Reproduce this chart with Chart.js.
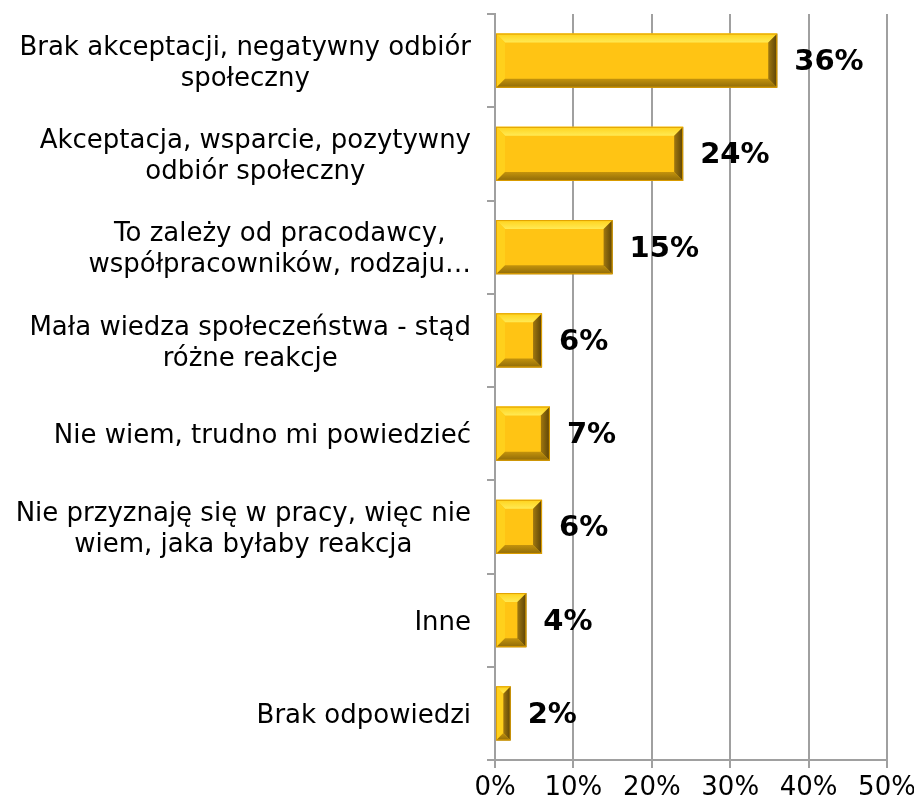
<!DOCTYPE html>
<html>
<head>
<meta charset="utf-8">
<script src="https://cdn.jsdelivr.net/npm/chart.js@4"></script>
<style>
  html, body { margin: 0; padding: 0; background: #fff; }
  #wrap { width: 914px; height: 808px; position: relative; }
</style>
</head>
<body>
<div id="wrap"><canvas id="odbiorChart"></canvas></div>
<script>
// kategorie odpowiedzi (wieloliniowe etykiety)
const categories = [
    ['Brak akceptacji, negatywny odbiór', 'społeczny'],
    ['Akceptacja, wsparcie, pozytywny', 'odbiór społeczny'],
    ['To zależy od pracodawcy,', 'współpracowników, rodzaju…'],
    ['Mała wiedza społeczeństwa - stąd', 'różne reakcje'],
    'Nie wiem, trudno mi powiedzieć',
    ['Nie przyznaję się w pracy, więc nie', 'wiem, jaka byłaby reakcja'],
    'Inne',
    'Brak odpowiedzi'
];
const values = [36, 24, 15, 6, 7, 6, 4, 2];
const xTicks = [0, 10, 20, 30, 40, 50];

const FONT = '"DejaVu Sans", sans-serif';
const LABEL_SIZE = 26;
const LABEL_LINE = 31;

// --- wypukłe (fazowane) słupki ---
const bevelBars = {
    id: 'bevelBars',
    afterDatasetsDraw(chart) {
        const c = chart.ctx;
        chart.getDatasetMeta(0).data.forEach(bar => {
            const l = Math.min(bar.base, bar.x), r = Math.max(bar.base, bar.x);
            const t = bar.y - bar.height / 2, b = bar.y + bar.height / 2;
            const bv = Math.min(9, (r - l) / 2, (b - t) / 2);
            c.save();
            // górna krawędź
            let g = c.createLinearGradient(0, t, 0, t + bv);
            g.addColorStop(0, '#FFD21A');
            g.addColorStop(1, '#FFEA55');
            c.fillStyle = g;
            c.beginPath();
            c.moveTo(l, t); c.lineTo(r, t); c.lineTo(r - bv, t + bv); c.lineTo(l + bv, t + bv);
            c.closePath(); c.fill();
            // lewa krawędź
            c.fillStyle = '#FFD01C';
            c.beginPath();
            c.moveTo(l, t); c.lineTo(l + bv, t + bv); c.lineTo(l + bv, b - bv); c.lineTo(l, b);
            c.closePath(); c.fill();
            // dolna krawędź
            g = c.createLinearGradient(0, b - bv, 0, b);
            g.addColorStop(0, '#C4930C');
            g.addColorStop(1, '#8E6A08');
            c.fillStyle = g;
            c.beginPath();
            c.moveTo(l, b); c.lineTo(l + bv, b - bv); c.lineTo(r - bv, b - bv); c.lineTo(r, b);
            c.closePath(); c.fill();
            // prawa krawędź
            g = c.createLinearGradient(r - bv, 0, r, 0);
            g.addColorStop(0, '#A07810');
            g.addColorStop(1, '#5A4206');
            c.fillStyle = g;
            c.beginPath();
            c.moveTo(r, t); c.lineTo(r, b); c.lineTo(r - bv, b - bv); c.lineTo(r - bv, t + bv);
            c.closePath(); c.fill();
            c.strokeStyle = '#E0A000';
            c.lineWidth = 1;
            c.strokeRect(l + 0.5, t + 0.5, r - l - 1, b - t - 1);
            c.restore();
        });
    }
};

// --- etykiety wartości przy słupkach ---
const valueLabels = {
    id: 'valueLabels',
    afterDatasetsDraw(chart) {
        const c = chart.ctx;
        const ds = chart.data.datasets[0];
        c.save();
        c.font = 'bold 29px ' + FONT;
        c.fillStyle = '#000';
        c.textAlign = 'left';
        c.textBaseline = 'middle';
        chart.getDatasetMeta(0).data.forEach((bar, i) => {
            c.fillText(ds.data[i] + '%', bar.x + 17, bar.y + 2);
        });
        c.restore();
    }
};

// --- etykiety kategorii: blok wyrównany do prawej, wiersze wyśrodkowane ---
const categoryLabels = {
    id: 'categoryLabels',
    afterDraw(chart) {
        const c = chart.ctx;
        const yScale = chart.scales.y;
        const right = yScale.right - 24;
        c.save();
        c.font = LABEL_SIZE + 'px ' + FONT;
        c.fillStyle = '#000';
        c.textAlign = 'center';
        c.textBaseline = 'middle';
        chart.data.labels.forEach((lab, i) => {
            const lines = Array.isArray(lab) ? lab : [lab];
            const w = Math.max(...lines.map(s => c.measureText(s).width));
            const cx = right - w / 2;
            const cy = yScale.getPixelForTick(i) + 3;
            lines.forEach((s, k) => {
                c.fillText(s, cx, cy + (k - (lines.length - 1) / 2) * LABEL_LINE);
            });
        });
        c.restore();
    }
};

new Chart(document.getElementById('odbiorChart'), {
    type: 'bar',
    data: {
        labels: categories,
        datasets: [{
            data: values,
            backgroundColor: '#FFC414',
            borderWidth: 0,
            categoryPercentage: 0.58,
            barPercentage: 1
        }]
    },
    plugins: [bevelBars, valueLabels, categoryLabels],
    options: {
        indexAxis: 'y',
        responsive: true,
        maintainAspectRatio: false,
        animation: false,
        layout: { padding: { top: 14, right: 27 } },
        plugins: {
            legend: { display: false },
            tooltip: { enabled: false }
        },
        scales: {
            x: {
                min: xTicks[0],
                max: xTicks[xTicks.length - 1],
                afterBuildTicks: scale => { scale.ticks = xTicks.map(v => ({ value: v })); },
                afterFit: scale => {
                    scale.height = 48;
                    scale.paddingLeft = 0;
                    scale.paddingRight = 0;
                },
                grid: { color: '#A0A0A0', lineWidth: 2, tickLength: 8 },
                border: { color: '#A0A0A0', width: 2 },
                ticks: {
                    color: '#000',
                    font: { family: FONT, size: 26 },
                    padding: 5,
                    maxRotation: 0,
                    callback: v => v + '%'
                }
            },
            y: {
                afterFit: scale => {
                    scale.width = 495;
                    scale.paddingTop = 0;
                    scale.paddingBottom = 0;
                },
                grid: { drawOnChartArea: false, color: '#A0A0A0', lineWidth: 2, tickLength: 8, offset: true },
                border: { color: '#A0A0A0', width: 2 },
                ticks: { display: false, autoSkip: false }
            }
        }
    }
});
</script>
</body>
</html>
